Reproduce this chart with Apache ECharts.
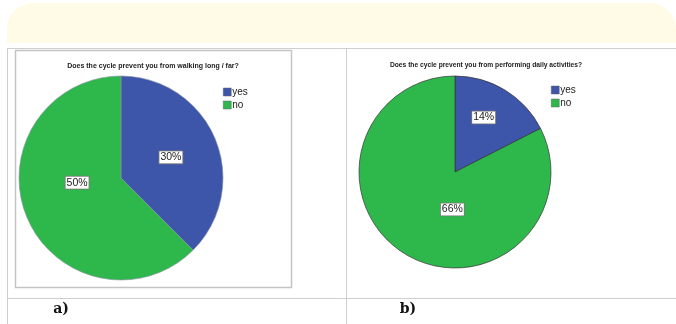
<!DOCTYPE html>
<html>
<head>
<meta charset="utf-8">
<script src="https://cdn.jsdelivr.net/npm/echarts@6/dist/echarts.min.js"></script>
<style>
html,body{margin:0;padding:0;background:#fff;}
#c{width:676px;height:324px;}
</style>
</head>
<body>
<div id="c"></div>
<script>
const categories = ['yes', 'no'];
const walkingValues = [30, 50];
const dailyValues = [14, 66];
const titleA = 'Does the cycle prevent you from walking long / far?';
const titleB = 'Does the cycle prevent you from performing daily activities?';
const panelLabels = ['a)', 'b)'];

const colors = ['#3e56a9', '#2eb84b'];
const chart = echarts.init(document.getElementById('c'), null, {renderer: 'canvas'});

const labelOffsetsA = [[0, 0], [6, -16]];
const labelOffsetsB = [[2, -11], [24, -6]];

function pieData(values, offsets) {
  return categories.map((name, i) => ({
    name: name,
    value: values[i],
    itemStyle: {color: colors[i]},
    label: {offset: offsets[i]}
  }));
}

const labelStyle = {
  show: true,
  position: 'inside',
  formatter: '{c}%',
  fontFamily: 'Liberation Sans, Arial, sans-serif',
  fontSize: 10.5,
  color: '#222',
  backgroundColor: '#fff',
  borderColor: '#777',
  borderWidth: 0.8,
  padding: [1, 1, 0, 1]
};

const legendBase = {
  orient: 'vertical',
  data: categories,
  icon: 'rect',
  itemWidth: 8,
  itemHeight: 8,
  itemGap: 3,
  padding: 0,
  selectedMode: false,
  itemStyle: {borderColor: '#666', borderWidth: 0.5},
  textStyle: {fontFamily: 'Liberation Sans, Arial, sans-serif', fontSize: 10, color: '#222', padding: [0, 0, 0, -4]}
};

chart.setOption({
  animation: false,
  legend: [
    Object.assign({left: 223, top: 87}, legendBase),
    Object.assign({left: 551, top: 85}, legendBase)
  ],
  graphic: [
    {type: 'rect', shape: {x: 7, y: 3, width: 669, height: 40, r: [26, 26, 0, 0]}, style: {fill: '#fffbe7'}, z: -10},
    {type: 'line', shape: {x1: 7, y1: 48.5, x2: 676, y2: 48.5}, style: {stroke: '#cfcfcf', lineWidth: 1}},
    {type: 'line', shape: {x1: 7, y1: 298.5, x2: 676, y2: 298.5}, style: {stroke: '#cfcfcf', lineWidth: 1}},
    {type: 'line', shape: {x1: 7.5, y1: 48, x2: 7.5, y2: 324}, style: {stroke: '#cfcfcf', lineWidth: 1}},
    {type: 'line', shape: {x1: 346.5, y1: 48, x2: 346.5, y2: 324}, style: {stroke: '#cfcfcf', lineWidth: 1}},
    {type: 'rect', shape: {x: 15.5, y: 50.5, width: 276, height: 237}, style: {fill: 'none', stroke: '#c4c4c4', lineWidth: 1.5}},
    {type: 'text', x: 153, y: 66, style: {text: titleA, align: 'center', verticalAlign: 'middle', font: 'bold 7px "Liberation Sans", Arial, sans-serif', fill: '#222'}},
    {type: 'text', x: 486, y: 65, style: {text: titleB, align: 'center', verticalAlign: 'middle', font: 'bold 6.7px "Liberation Sans", Arial, sans-serif', fill: '#222'}},
    {type: 'text', x: 61, y: 309, style: {text: panelLabels[0], align: 'center', verticalAlign: 'middle', font: 'bold 14px "DejaVu Serif", "Liberation Serif", serif', fill: '#111'}},
    {type: 'text', x: 408, y: 309, style: {text: panelLabels[1], align: 'center', verticalAlign: 'middle', font: 'bold 14px "DejaVu Serif", "Liberation Serif", serif', fill: '#111'}}
  ],
  series: [
    {
      type: 'pie',
      center: [121, 178],
      radius: 102,
      startAngle: 90,
      clockwise: true,
      silent: true,
      label: labelStyle,
      labelLine: {show: false},
      itemStyle: {borderColor: '#8a90a8', borderWidth: 0.6},
      emphasis: {disabled: true},
      data: pieData(walkingValues, labelOffsetsA)
    },
    {
      type: 'pie',
      center: [455, 172],
      radius: 96,
      startAngle: 90,
      clockwise: true,
      silent: true,
      label: labelStyle,
      labelLine: {show: false},
      itemStyle: {borderColor: '#333', borderWidth: 0.7},
      emphasis: {disabled: true},
      data: pieData(dailyValues, labelOffsetsB)
    }
  ]
});
</script>
</body>
</html>
